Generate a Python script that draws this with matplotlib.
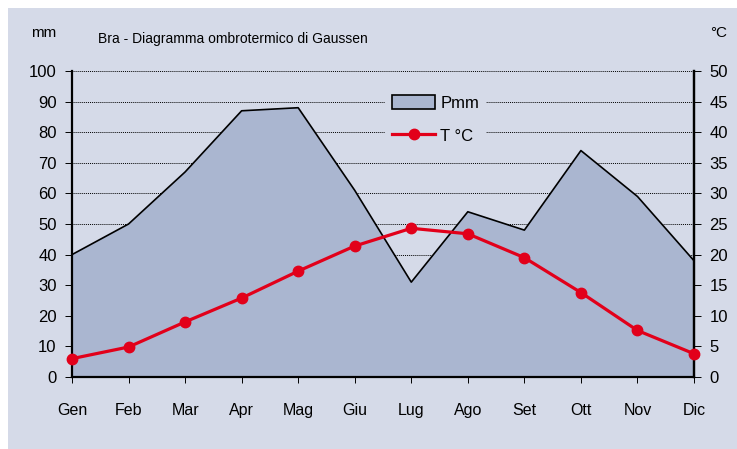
import matplotlib
matplotlib.use("Agg")
import matplotlib.pyplot as plt
from matplotlib.patches import Patch
from matplotlib.lines import Line2D

plt.rcParams['font.family'] = ['Liberation Sans', 'DejaVu Sans']

months = ["Gen", "Feb", "Mar", "Apr", "Mag", "Giu", "Lug", "Ago", "Set", "Ott", "Nov", "Dic"]
precip_mm = [40, 50, 67, 87, 88, 61, 31, 54, 48, 74, 59, 38]
temp_c = [3.0, 4.9, 9.0, 12.9, 17.3, 21.4, 24.3, 23.4, 19.5, 13.8, 7.6, 3.8]
left_ticks = list(range(0, 101, 10))
right_ticks = list(range(0, 51, 5))
title = "Bra - Diagramma ombrotermico di Gaussen"

BG = "#d5dae8"
FILL = "#aab6d0"
RED = "#e2001a"

W, H = 737, 449
fig = plt.figure(figsize=(W / 100, H / 100), dpi=100, facecolor="white")
bg = fig.add_axes([8 / W, 0, 1 - 8 / W, 1 - 8 / H], zorder=-10)
bg.set_facecolor(BG)
bg.set_xticks([]); bg.set_yticks([])
for s in bg.spines.values():
    s.set_visible(False)

l, r = 72 / W, 694 / W
b, t = 1 - 377 / H, 1 - 71 / H
ax = fig.add_axes([l, b, r - l, t - b])
ax.patch.set_visible(False)
x = list(range(len(months)))

ax.fill_between(x, precip_mm, 0, facecolor=FILL, edgecolor="none", zorder=2)
ax.plot(x, precip_mm, color="black", lw=1.2, zorder=3)
ax.set_xlim(0, len(months) - 1)
ax.set_ylim(0, 100)
ax.set_yticks(left_ticks)
ax.set_xticks(x)
ax.set_xticklabels(months)
ax.grid(axis="y", color="black", linestyle=(0, (1, 1)), lw=0.7, zorder=1)
ax.set_axisbelow(True)
ax.spines["top"].set_visible(False)
for s in ["left", "bottom", "right"]:
    ax.spines[s].set_linewidth(1.6)
    ax.spines[s].set_zorder(5)
ax.tick_params(axis="y", direction="out", length=5, width=0.7, labelsize=12, pad=6)
ax.tick_params(axis="x", direction="out", length=4, width=0.7, labelsize=11.5, pad=15)

ax2 = ax.twinx()
ax2.plot(x, temp_c, color=RED, lw=2.3, marker="o", ms=7.5, zorder=4, clip_on=False)
ax2.set_ylim(0, 50)
ax2.set_yticks(right_ticks)
ax2.spines["top"].set_visible(False)
ax2.spines["left"].set_visible(False)
ax2.spines["bottom"].set_visible(False)
ax2.spines["right"].set_linewidth(1.6)
ax2.tick_params(axis="y", direction="out", length=5, width=0.7, labelsize=12, pad=6)

handles = [Patch(facecolor=FILL, edgecolor="black", linewidth=1.2),
           Line2D([0], [0], color=RED, lw=2.3, marker="o", ms=7.5)]
leg = ax2.legend(handles, ["Pmm", "T °C"], loc="upper left",
                 bbox_to_anchor=(377 / W, 1 - 80 / H), bbox_transform=fig.transFigure,
                 frameon=True, facecolor=BG, edgecolor="none", framealpha=1,
                 fontsize=12, handlelength=2.6, handleheight=0.9, labelspacing=1.05,
                 handletextpad=0.3, borderpad=0.4, fancybox=False)
leg.set_zorder(10)

fig.text(44 / W, 1 - 33 / H, "mm", ha="center", va="center", fontsize=11)
fig.text(719 / W, 1 - 33 / H, "°C", ha="center", va="center", fontsize=11)
fig.text(233 / W, 1 - 39 / H, title, ha="center", va="center", fontsize=10)

fig.savefig("out.png", dpi=100, facecolor="white")
